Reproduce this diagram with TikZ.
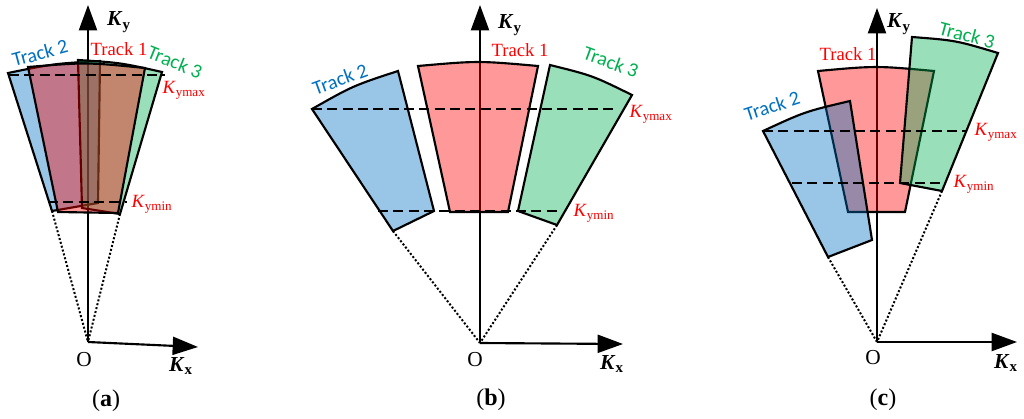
\documentclass[tikz,border=0pt]{standalone}
\usepackage{fontspec}
\setmainfont{Liberation Serif}
\newfontfamily\trackfont{Carlito}
\usetikzlibrary{arrows.meta}
\definecolor{tblue}{RGB}{0,112,192}
\definecolor{tred}{RGB}{255,0,0}
\definecolor{tgreen}{RGB}{0,176,80}
\begin{document}
\begin{tikzpicture}[x=0.75pt,y=-0.75pt,
  axis/.style={line width=1.6pt,-{Triangle[length=19pt,width=13.5pt]}},
  trk/.style={draw=black,line width=1.6pt,fill opacity=0.4,line join=miter},
  blu/.style={trk,fill=tblue},
  rdd/.style={trk,fill=tred},
  grn/.style={trk,fill=tgreen},
  lvl/.style={dash pattern=on 7.5pt off 4pt,line width=1.4pt},
  ray/.style={dash pattern=on 1.5pt off 1.5pt,line width=1.5pt},
  tone/.style={text=tred,font=\fontsize{14}{16}\selectfont,inner sep=0pt},
  ttwo/.style={text=tblue,font=\trackfont\fontsize{15}{17}\selectfont,inner sep=0pt},
  tthree/.style={text=tgreen,font=\trackfont\fontsize{15}{17}\selectfont,inner sep=0pt},
  klab/.style={text=tred,font=\fontsize{14}{16}\selectfont,inner sep=0pt},
  axlab/.style={font=\fontsize{16}{18}\selectfont\bfseries,inner sep=0pt},
  olab/.style={font=\fontsize{16}{18}\selectfont,inner sep=0pt},
  plab/.style={font=\fontsize{18}{21}\selectfont,inner sep=0pt}
]
\useasboundingbox (0,0) rectangle (1024,418);

% ---------------- panel (a)
\coordinate (Oa) at (88,342);
\coordinate (Xa) at (198,347);
\coordinate (Ya) at (88,5);
\coordinate (a2bl) at (52,211);
\coordinate (a3br) at (120,214);
\draw[axis] (Oa) -- (Ya);
\draw[axis] (Oa) -- (Xa);
\filldraw[blu] (8,73) .. controls (53.6,63.7) .. (100,61) -- (98,203) -- (a2bl) -- cycle;
\filldraw[grn] (78,60) .. controls (120.5,62.7) .. (162,72) -- (a3br) -- (82,208) -- cycle;
\filldraw[rdd] (28,67) .. controls (86.5,62.2) .. (145,68) -- (118,213) -- (58,212) -- cycle;
\coordinate (amax1) at (9,75); \coordinate (amax2) at (165,75);
\coordinate (amin1) at (48,202); \coordinate (amin2) at (127,202);
\draw[lvl] (amax1) -- (amax2);
\draw[lvl] (amin1) -- (amin2);
\draw[ray] (a2bl) -- (Oa);
\draw[ray] (a3br) -- (Oa);
\node[ttwo,rotate=15] (at2) at (40,53) {Track 2};
\node[tone] (at1) at (119,49) {Track 1};
\node[tthree,rotate=-22] (at3) at (175,62) {Track 3};
\node[klab] (akmax) at (184,90) {\textit{K}\textsubscript{ymax}};
\node[klab] (akmin) at (152,204) {\textit{K}\textsubscript{ymin}};
\node[axlab] (aky) at (119,22) {\textit{K}\textsubscript{y}};
\node[axlab] (akx) at (181,366) {\textit{K}\textsubscript{x}};
\node[olab] (ao) at (84,360) {O};
\node[plab] (acap) at (106,401) {(\textbf{a})};

% ---------------- panel (b)
\coordinate (Ob) at (480,343);
\coordinate (Xb) at (623,344);
\coordinate (Yb) at (480,5);
\coordinate (b2bl) at (393,231);
\coordinate (b3br) at (557,225);
\draw[axis] (Ob) -- (Yb);
\draw[axis] (Ob) -- (Xb);
\filldraw[blu] (312,109) .. controls (353.1,85.7) .. (398,71) -- (434,211) -- (b2bl) -- cycle;
\filldraw[rdd] (418,66) .. controls (478,60.7) .. (538,66) -- (508,212) -- (450,212) -- cycle;
\filldraw[grn] (550,65) .. controls (592.6,75.6) .. (632,95) -- (b3br) -- (518,211) -- cycle;
\coordinate (bmax1) at (312,109); \coordinate (bmax2) at (617,109);
\coordinate (bmin1) at (378,211); \coordinate (bmin2) at (560,211);
\draw[lvl] (bmax1) -- (bmax2);
\draw[lvl] (bmin1) -- (bmin2);
\draw[ray] (b2bl) -- (Ob);
\draw[ray] (b3br) -- (Ob);
\node[ttwo,rotate=20] (bt2) at (340,79) {Track 2};
\node[tone] (bt1) at (520,50) {Track 1};
\node[tthree,rotate=-20] (bt3) at (611,62) {Track 3};
\node[klab] (bkmax) at (651,114) {\textit{K}\textsubscript{ymax}};
\node[klab] (bkmin) at (594,213) {\textit{K}\textsubscript{ymin}};
\node[axlab] (bky) at (510,25) {\textit{K}\textsubscript{y}};
\node[axlab] (bkx) at (612,364) {\textit{K}\textsubscript{x}};
\node[olab] (bo) at (475,360) {O};
\node[plab] (bcap) at (491,400) {(\textbf{b})};

% ---------------- panel (c)
\coordinate (Oc) at (877,342);
\coordinate (Xc) at (1017,342);
\coordinate (Yc) at (877,8);
\coordinate (c2bl) at (828,257);
\coordinate (c3br) at (942,191);
\draw[axis] (Oc) -- (Yc);
\draw[axis] (Oc) -- (Xc);
\filldraw[rdd] (818,71) .. controls (876,65.7) .. (934,71) -- (905,212) -- (848,212) -- cycle;
\filldraw[blu] (763,131) .. controls (805,111.6) .. (850,101) -- (872,240) -- (c2bl) -- cycle;
\filldraw[grn] (912,37) .. controls (955.9,40.4) .. (998,53) -- (c3br) -- (900,183) -- cycle;
\coordinate (cmax1) at (763,131); \coordinate (cmax2) at (967,131);
\coordinate (cmin1) at (792,183); \coordinate (cmin2) at (943,183);
\draw[lvl] (cmax1) -- (cmax2);
\draw[lvl] (cmin1) -- (cmin2);
\draw[ray] (c2bl) -- (Oc);
\draw[ray] (c3br) -- (Oc);
\node[ttwo,rotate=18] (ct2) at (772,106) {Track 2};
\node[tone] (ct1) at (848,54) {Track 1};
\node[tthree,rotate=-15] (ct3) at (967,35) {Track 3};
\node[klab] (ckmax) at (996,132) {\textit{K}\textsubscript{ymax}};
\node[klab] (ckmin) at (974,184) {\textit{K}\textsubscript{ymin}};
\node[axlab] (cky) at (899,24) {\textit{K}\textsubscript{y}};
\node[axlab] (ckx) at (1006,363) {\textit{K}\textsubscript{x}};
\node[olab] (co) at (873,358) {O};
\node[plab] (ccap) at (883,400) {(\textbf{c})};
\end{tikzpicture}
\end{document}
